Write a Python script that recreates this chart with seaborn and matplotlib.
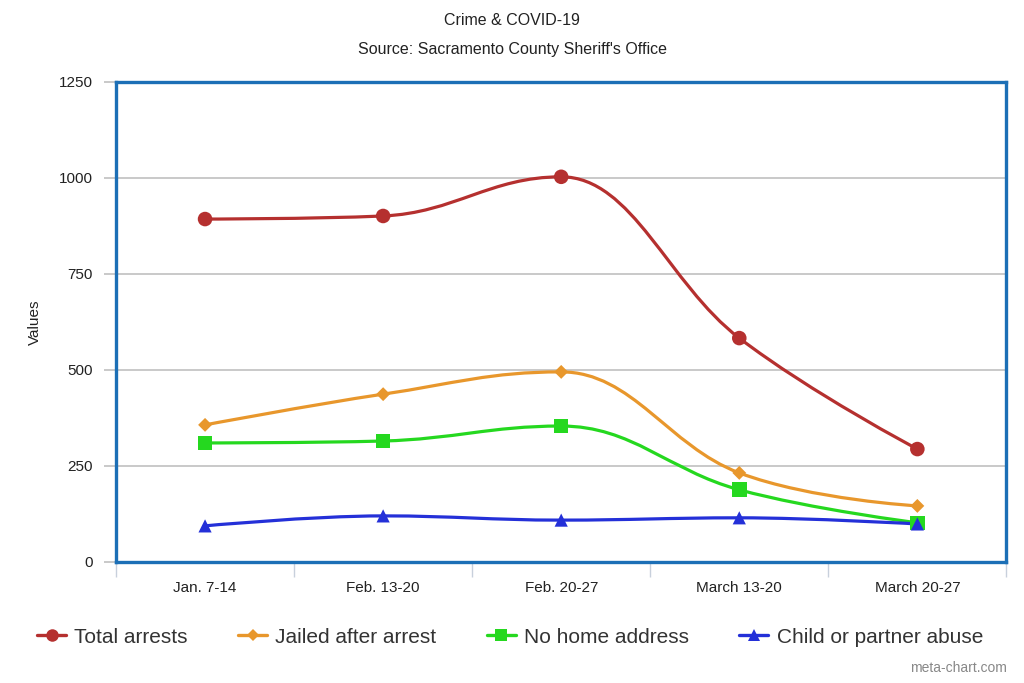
import matplotlib
matplotlib.use("Agg")
import matplotlib.pyplot as plt
from matplotlib.path import Path
from matplotlib.patches import PathPatch
from matplotlib.lines import Line2D
import pandas as pd
import seaborn as sns

# data
weeks = ["Jan. 7-14", "Feb. 13-20", "Feb. 20-27", "March 13-20", "March 20-27"]
total_arrests = [893, 901, 1003, 583, 294]
jailed = [357, 437, 495, 232, 146]
no_home = [310, 315, 354, 188, 102]
abuse = [94, 120, 109, 115, 99]

series = {
    "Total arrests": total_arrests,
    "Jailed after arrest": jailed,
    "No home address": no_home,
    "Child or partner abuse": abuse,
}
colors = {
    "Total arrests": "#b5302f",
    "Jailed after arrest": "#e8972c",
    "No home address": "#25d81f",
    "Child or partner abuse": "#2430d8",
}
markers = {
    "Total arrests": "o",
    "Jailed after arrest": "D",
    "No home address": "s",
    "Child or partner abuse": "^",
}
msizes = {"Total arrests": 110, "Jailed after arrest": 50,
          "No home address": 110, "Child or partner abuse": 90}

rows = []
for name, vals in series.items():
    for i, v in enumerate(vals):
        rows.append({"week": i, "label": weeks[i], "series": name, "value": v})
df = pd.DataFrame(rows)


def spline_path(xs, ys, smoothing=1.5):
    # bezier control points like a charting lib "spline" line
    denom = smoothing + 1
    verts = [(xs[0], ys[0])]
    codes = [Path.MOVETO]
    ctrl = []
    n = len(xs)
    for i in range(n):
        if i == 0 or i == n - 1:
            ctrl.append(None)
            continue
        lx, ly = xs[i - 1], ys[i - 1]
        nx, ny = xs[i + 1], ys[i + 1]
        px, py = xs[i], ys[i]
        lcx = (smoothing * px + lx) / denom
        lcy = (smoothing * py + ly) / denom
        rcx = (smoothing * px + nx) / denom
        rcy = (smoothing * py + ny) / denom
        if rcx != lcx:
            corr = ((rcy - lcy) * (rcx - px)) / (rcx - lcx) + py - rcy
            lcy += corr
            rcy += corr
        if lcy > ly and lcy > py:
            lcy = max(ly, py)
            rcy = 2 * py - lcy
        elif lcy < ly and lcy < py:
            lcy = min(ly, py)
            rcy = 2 * py - lcy
        if rcy > ny and rcy > py:
            rcy = max(ny, py)
            lcy = 2 * py - rcy
        elif rcy < ny and rcy < py:
            rcy = min(ny, py)
            lcy = 2 * py - rcy
        ctrl.append(((lcx, lcy), (rcx, rcy)))
    for i in range(1, n):
        prev = ctrl[i - 1]
        cur = ctrl[i]
        c1 = prev[1] if prev else (xs[i - 1], ys[i - 1])
        c2 = cur[0] if cur else (xs[i], ys[i])
        verts += [c1, c2, (xs[i], ys[i])]
        codes += [Path.CURVE4] * 3
    return Path(verts, codes)


sns.set_theme(style="white")
plt.rcParams["font.family"] = ["Liberation Sans", "DejaVu Sans"]

fig = plt.figure(figsize=(10.24, 6.83), dpi=100)
ax = fig.add_axes([0.1133, 0.1772, 0.8695, 0.7028])

xs = list(range(len(weeks)))
for name, vals in series.items():
    p = spline_path(xs, vals)
    ax.add_patch(PathPatch(p, facecolor="none", edgecolor=colors[name], lw=2.3, zorder=3))

sns.scatterplot(data=df, x="week", y="value", hue="series", style="series",
                palette=colors, markers=markers, size="series", sizes=msizes,
                edgecolor="none", legend=False, ax=ax, zorder=4)

ax.set_xlim(-0.5, 4.5)
ax.set_ylim(0, 1250)
ax.set_yticks([0, 250, 500, 750, 1000, 1250])
ax.yaxis.grid(True, color="#c0c0c0", lw=1.2)
ax.set_xticks([x + 0.5 for x in range(-1, 5)])
ax.set_xticklabels([])
ax.set_xticks(xs, minor=True)
ax.set_xticklabels(weeks, minor=True, fontsize=11, color="#222222")
ax.tick_params(axis="x", which="major", length=11, color="#c8d0dc", width=1)
ax.tick_params(axis="x", which="minor", length=0, pad=14)
ax.tick_params(axis="y", length=9, color="#c0c0c0", width=1.2, labelsize=11,
               labelcolor="#222222", pad=8)
ax.tick_params(left=True, bottom=True)
for s in ax.spines.values():
    s.set_color("#1c6fb6")
    s.set_linewidth(2.4)
ax.set_xlabel("")
ax.set_ylabel("Values", fontsize=11, color="#222222", labelpad=12)

fig.text(0.5, 0.970, "Crime & COVID-19", ha="center", va="center", fontsize=11.5, color="#222222")
fig.text(0.5, 0.928, "Source: Sacramento County Sheriff's Office", ha="center", va="center",
         fontsize=11.5, color="#222222")

handles = [Line2D([0], [0], color=colors[n], lw=2.4, marker=markers[n],
                  markersize=9 if markers[n] != "D" else 6, markeredgewidth=0)
           for n in series]
fig.legend(handles, list(series.keys()), loc="center", bbox_to_anchor=(0.498, 0.067),
           ncol=4, frameon=False, fontsize=15, handlelength=1.4, handletextpad=0.4,
           columnspacing=2.4, labelcolor="#333333")

fig.text(0.983, 0.022, "meta-chart.com", ha="right", va="center", fontsize=10, color="#888888")

fig.savefig("out.png", dpi=100)
